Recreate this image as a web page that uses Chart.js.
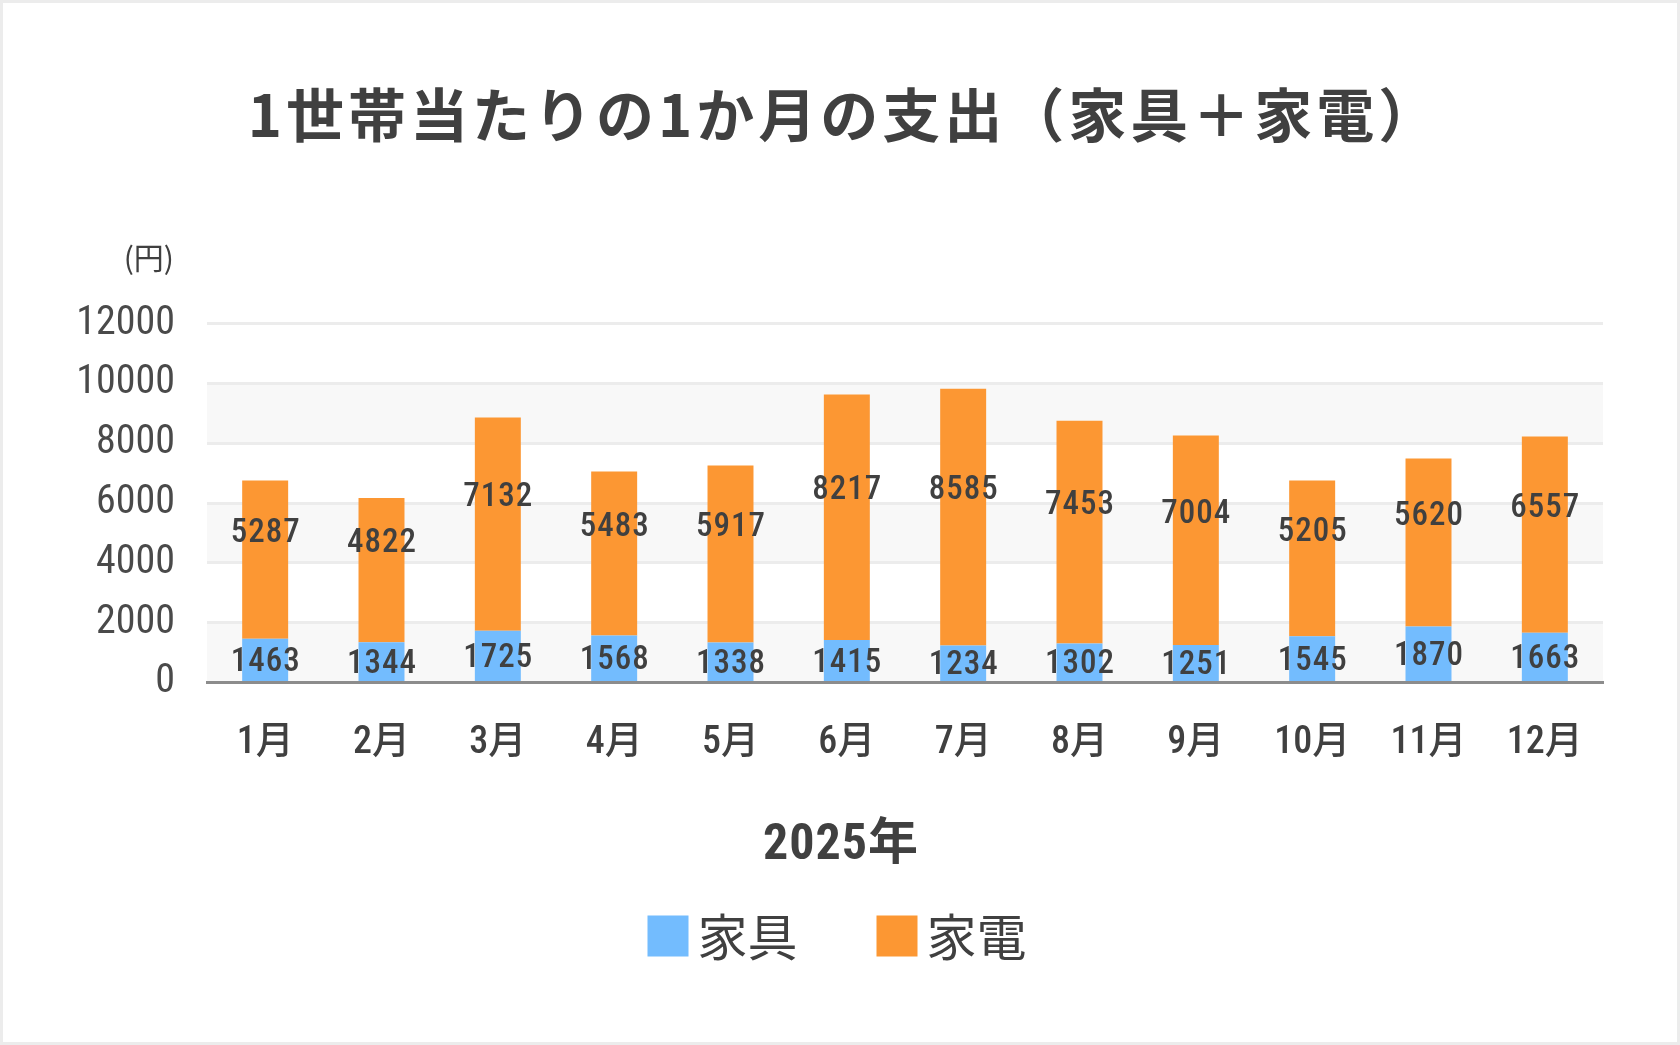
<!DOCTYPE html>
<html><head><meta charset="utf-8">
<script src="https://cdn.jsdelivr.net/npm/chart.js@4.4.1/dist/chart.umd.min.js"></script>
<style>
html,body{margin:0;padding:0;background:#fff;}
#wrap{width:1680px;height:1045px;box-sizing:border-box;border:3px solid #ececec;background:#fff;}
#wrap canvas{display:block;}
</style></head><body>
<div id="wrap"><canvas id="c" width="1674" height="1039"></canvas></div>
<script>
const chartTitle = '1世帯当たりの1か月の支出（家具＋家電）';
const xAxisTitle = '2025年';
const unitLabel = '(円)';
const months = ['1月','2月','3月','4月','5月','6月','7月','8月','9月','10月','11月','12月'];
const seriesNames = ['家具', '家電'];
const furniture = [1463, 1344, 1725, 1568, 1338, 1415, 1234, 1302, 1251, 1545, 1870, 1663];
const appliances = [5287, 4822, 7132, 5483, 5917, 8217, 8585, 7453, 7004, 5205, 5620, 6557];
const yTickValues = [0, 2000, 4000, 6000, 8000, 10000, 12000];

const NUM = "'Roboto Condensed', Roboto, 'Noto Sans CJK JP', sans-serif";
const CJK = "'Noto Sans CJK JP', sans-serif";
const TEXT = '#404040';
const BLUE = '#73BCFE';
const ORANGE = '#FC9733';

function patchBox(chart, box, dx, spacing) {
  if (!box || box._patched) return;
  const d = box.draw.bind(box);
  box.draw = function () { const c = chart.ctx; c.save(); c.translate(dx, 0); c.letterSpacing = spacing; d(); c.restore(); };
  box._patched = true;
}

const extras = {
  id: 'extras',
  beforeDraw(chart) {
    patchBox(chart, chart.titleBlock, 41, '4px');
    const sub = chart.boxes.find(b => b !== chart.titleBlock && b.options && b.options.text === xAxisTitle);
    patchBox(chart, sub, 38, '1px');
    const ctx = chart.ctx, ca = chart.chartArea, y = chart.scales.y;
    ctx.save();
    ctx.fillStyle = '#f8f8f8';
    for (let i = 0; i < yTickValues.length - 1; i += 2) {
      const top = y.getPixelForValue(yTickValues[i + 1]);
      const bot = y.getPixelForValue(yTickValues[i]);
      ctx.fillRect(ca.left, top, ca.right - ca.left, bot - top);
    }
    ctx.restore();
  },
  afterDatasetsDraw(chart) {
    const ctx = chart.ctx;
    ctx.save();
    ctx.font = `500 33px ${NUM}`;
    ctx.fillStyle = TEXT;
    ctx.textAlign = 'center';
    ctx.textBaseline = 'middle';
    ctx.letterSpacing = '1px';
    chart.data.datasets.forEach((ds, i) => {
      const meta = chart.getDatasetMeta(i);
      meta.data.forEach((bar, j) => {
        const p = bar.getProps(['x', 'y', 'base'], true);
        const cy = (p.y + p.base) / 2 + (i === 1 ? -26 : 3);
        ctx.fillText(String(ds.data[j]), p.x + 0.5, cy);
      });
    });
    ctx.restore();
  },
  afterDraw(chart) {
    const ctx = chart.ctx, ca = chart.chartArea;
    ctx.save();
    ctx.font = `30px ${CJK}`;
    ctx.fillStyle = TEXT;
    ctx.textAlign = 'right';
    ctx.textBaseline = 'middle';
    ctx.fillText(unitLabel, ca.left - 33, ca.top - 66);
    ctx.font = `50px ${CJK}`;
    ctx.textAlign = 'left';
    const box = 41, gap = 9, itemGap = 79;
    const items = chart.data.datasets.map(ds => ({ label: ds.label, color: ds.backgroundColor, w: ctx.measureText(ds.label).width }));
    let total = 0;
    items.forEach((it, k) => { total += box + gap + it.w + (k ? itemGap : 0); });
    let x = (chart.width - total) / 2 - 3;
    const cy = chart.height - 106;
    items.forEach((it) => {
      ctx.fillStyle = it.color;
      ctx.fillRect(x, cy - box / 2, box, box);
      ctx.fillStyle = TEXT;
      ctx.fillText(it.label, x + box + gap, cy + 1);
      x += box + gap + it.w + itemGap;
    });
    ctx.restore();
  }
};

new Chart(document.getElementById('c'), {
  type: 'bar',
  data: {
    labels: months,
    datasets: [
      { label: seriesNames[0], data: furniture, backgroundColor: BLUE, categoryPercentage: 0.8, barPercentage: 0.494 },
      { label: seriesNames[1], data: appliances, backgroundColor: ORANGE, categoryPercentage: 0.8, barPercentage: 0.494 }
    ]
  },
  options: {
    responsive: false,
    animation: false,
    devicePixelRatio: 1,
    layout: { padding: { left: 0, right: 74, top: 0, bottom: 130 } },
    plugins: {
      legend: { display: false },
      tooltip: { enabled: false },
      title: {
        display: true, text: chartTitle, color: TEXT,
        font: { family: CJK, size: 58, weight: 'bold', lineHeight: 1.2 },
        padding: { top: 77, bottom: 174 }
      },
      subtitle: {
        display: true, text: xAxisTitle, position: 'bottom', color: TEXT,
        font: { family: NUM, size: 50, weight: 'bold', lineHeight: 1.2 },
        padding: { top: 12, bottom: 36 }
      }
    },
    scales: {
      x: {
        stacked: true,
        grid: { display: false, drawTicks: false },
        border: { display: true, color: '#8c8c8c', width: 3 },
        ticks: { color: TEXT, padding: 38, font: { family: NUM, size: 38, weight: 500, lineHeight: 1.2 } }
      },
      y: {
        stacked: true, min: 0, max: 12000,
        afterFit(s) { s.width = 204; },
        afterBuildTicks(s) { s.ticks = yTickValues.map(v => ({ value: v })); },
        grid: { drawTicks: false, lineWidth: 3, color: (c) => (c.tick && c.tick.value === 0 ? 'rgba(0,0,0,0)' : '#ececec') },
        border: { display: false },
        ticks: { color: '#4a4a4a', padding: 32, font: { family: NUM, size: 40, lineHeight: 1.2 }, callback: (v) => String(v) }
      }
    }
  },
  plugins: [extras]
});
</script>
</body></html>
